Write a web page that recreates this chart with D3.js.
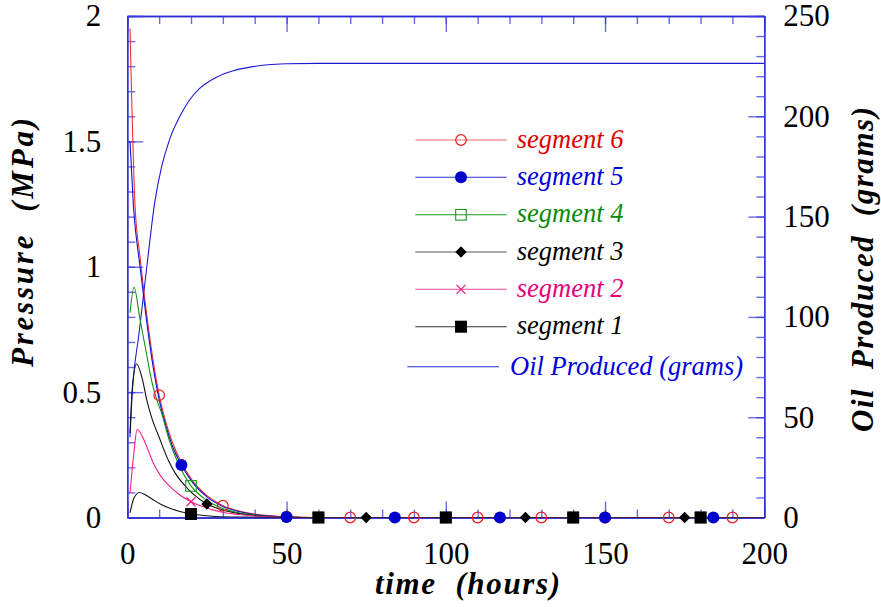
<!DOCTYPE html>
<html>
<head>
<meta charset="utf-8">
<script src="https://cdn.jsdelivr.net/npm/d3@7"></script>
<style>
  body { margin: 0; background: #fff; }
</style>
</head>
<body>
<svg id="chart" width="881" height="607"></svg>
<script>
// Pressure (MPa) against time (hours) for each segment, as [time, pressure] pairs
const segment6 = [[0.85,1.95],[2.4,1.25],[4,1.04],[6,0.82],[8,0.635],[10,0.488],[12,0.385],[14,0.305],[17,0.218],[20,0.155],[25,0.087],[30,0.047],[35,0.026],[40,0.014],[45,0.007],[50,0.003],[60,0],[70,0],[90,0],[110,0],[130,0],[150,0],[170,0],[190,0],[200,0]];
const segment5 = [[0.85,1.5],[1.9,1.246],[4,1.0],[6,0.79],[8,0.61],[10,0.47],[12,0.37],[14,0.29],[17,0.209],[20,0.148],[25,0.082],[30,0.044],[35,0.024],[40,0.012],[45,0.006],[50,0.002],[60,0],[84,0],[117,0],[150,0],[184,0],[200,0]];
const segment4 = [[0.85,0.817],[2.1,0.918],[4,0.79],[6,0.655],[7.6,0.548],[9,0.48],[10.8,0.415],[13,0.315],[16,0.215],[20,0.126],[25,0.068],[30,0.036],[35,0.019],[40,0.01],[50,0.002],[60,0],[100,0],[140,0],[180,0],[200,0]];
const segment3 = [[0.85,0.336],[1.6,0.52],[2.9,0.612],[4.8,0.548],[6.1,0.469],[7.6,0.4],[10,0.32],[13,0.225],[15,0.178],[18,0.128],[21,0.09],[25,0.054],[30,0.03],[35,0.016],[40,0.008],[50,0.001],[60,0],[75,0],[125,0],[175,0],[200,0]];
const segment2 = [[0.85,0.097],[2,0.25],[3.1,0.352],[4,0.34],[5,0.316],[6.5,0.27],[8.2,0.216],[10.5,0.165],[13.4,0.123],[16.5,0.09],[20,0.063],[25,0.038],[29,0.023],[35,0.012],[40,0.006],[50,0.001],[60,0],[100,0],[140,0],[180,0],[200,0]];
const segment1 = [[0.85,0.018],[2,0.075],[3.8,0.1],[5.5,0.092],[8.2,0.07],[10.5,0.053],[13.4,0.037],[16.5,0.024],[20,0.014],[25,0.007],[29,0.003],[40,0.001],[50,0],[60,0],[100,0],[140,0],[180,0],[200,0]];

// Cumulative oil produced (grams) against time (hours)
const oilProduced = [[0.85,40],[1.4,58],[3.7,92],[6.2,126],[8.6,157],[10.8,175],[13.4,189],[16.5,200],[19.5,208],[22.8,214],[28,219.5],[33,222.6],[38.5,224.5],[44,225.7],[50,226.2],[60,226.4],[200,226.4]];

// Symbol positions along each pressure curve, [time, pressure]
const segment6Marks = [[10,0.488],[30,0.047],[50,0.003],[70,0],[90,0],[110,0],[130,0],[150,0],[170,0],[190,0]];
const segment5Marks = [[17,0.209],[50,0.002],[84,0],[117,0],[150,0],[184,0]];
const segment4Marks = [[20,0.126],[60,0],[100,0],[140,0],[180,0]];
const segment3Marks = [[25,0.054],[75,0],[125,0],[175,0]];
const segment2Marks = [[20,0.063],[60,0],[100,0],[140,0],[180,0]];
const segment1Marks = [[20,0.014],[60,0],[100,0],[140,0],[180,0]];

// Axis ticks
const timeTicks = [0, 50, 100, 150, 200];
const pressureTicks = [0, 0.5, 1, 1.5, 2];
const oilTicks = [0, 50, 100, 150, 200, 250];

// Legend and axis titles
const legendLabels = ["segment 6", "segment 5", "segment 4", "segment 3", "segment 2", "segment 1"];
const oilLabel = "Oil Produced (grams)";
const xTitle = "time  (hours)";
const yTitle = "Pressure  (MPa)";
const y2Title = "Oil  Produced  (grams)";

// ---------------------------------------------------------------
const SERIF = '"Liberation Serif", "Times New Roman", Times, serif';
const svg = d3.select("#chart");
const plot = { left: 127.3, right: 764.3, top: 16, bottom: 517.5 };

const x = d3.scaleLinear().domain([0, 200]).range([plot.left, plot.right]);
const yP = d3.scaleLinear().domain([0, 2]).range([plot.bottom, plot.top]);
const yO = d3.scaleLinear().domain([0, 250]).range([plot.bottom, plot.top]);

const series = [
  { data: segment6, marks: segment6Marks, line: "#f03030", mark: "#e81c1c", text: "#e00000", symbol: "circleOpen", legendLine: "#f46a6a" },
  { data: segment5, marks: segment5Marks, line: "#1010d0", mark: "#0000cc", text: "#0000dd", symbol: "circle", legendLine: "#3030d0" },
  { data: segment4, marks: segment4Marks, line: "#0f900f", mark: "#1a9a1a", text: "#0a8a0a", symbol: "squareOpen", legendLine: "#1a9a1a" },
  { data: segment3, marks: segment3Marks, line: "#111111", mark: "#000000", text: "#000000", symbol: "diamond", legendLine: "#555555" },
  { data: segment2, marks: segment2Marks, line: "#f0208a", mark: "#ee1a80", text: "#e8007a", symbol: "cross", legendLine: "#f04a9a" },
  { data: segment1, marks: segment1Marks, line: "#111111", mark: "#000000", text: "#000000", symbol: "square", legendLine: "#333333" }
];

// Clip the curves to the plotting frame
svg.append("defs").append("clipPath").attr("id", "frame")
  .append("rect")
  .attr("x", plot.left).attr("y", plot.top - 2)
  .attr("width", plot.right - plot.left).attr("height", plot.bottom - plot.top + 2);

const axisColor = "#2e2ed8";
function styleAxis(g) {
  g.attr("font-family", null).attr("font-size", null);
  g.select(".domain").attr("stroke", axisColor).attr("stroke-width", 1.3);
  g.selectAll(".tick line").attr("stroke", "#3a3adc").attr("stroke-opacity", 0.75).attr("stroke-width", 1.4);
  g.selectAll(".tick text").style("font-family", SERIF).style("font-size", "31px").attr("fill", "#000");
}

// Minor ticks
svg.append("g").attr("transform", `translate(0,${plot.bottom})`)
  .call(d3.axisBottom(x).tickValues(d3.range(0, 201, 10)).tickSize(-8).tickSizeOuter(0).tickFormat(""))
  .call(styleAxis);
svg.append("g").attr("transform", `translate(0,${plot.top})`)
  .call(d3.axisTop(x).tickValues(d3.range(0, 201, 10)).tickSize(-8).tickSizeOuter(0).tickFormat(""))
  .call(styleAxis);
svg.append("g").attr("transform", `translate(${plot.left},0)`)
  .call(d3.axisLeft(yP).tickValues(d3.range(0, 20.5, 1).map(v => v / 10)).tickSize(-8).tickSizeOuter(0).tickFormat(""))
  .call(styleAxis);
svg.append("g").attr("transform", `translate(${plot.right},0)`)
  .call(d3.axisRight(yO).tickValues(d3.range(0, 251, 10)).tickSize(-8).tickSizeOuter(0).tickFormat(""))
  .call(styleAxis);

// Major ticks and labels
svg.append("g").attr("transform", `translate(0,${plot.bottom})`)
  .call(d3.axisBottom(x).tickValues(timeTicks).tickSize(-16).tickSizeOuter(0).tickPadding(24).tickFormat(d => String(d)))
  .call(styleAxis);
svg.append("g").attr("transform", `translate(0,${plot.top})`)
  .call(d3.axisTop(x).tickValues(timeTicks).tickSize(-16).tickSizeOuter(0).tickFormat(""))
  .call(styleAxis);
svg.append("g").attr("transform", `translate(${plot.left},0)`)
  .call(d3.axisLeft(yP).tickValues(pressureTicks).tickSize(-16).tickSizeOuter(0).tickPadding(26).tickFormat(d => String(d)))
  .call(styleAxis);
svg.append("g").attr("transform", `translate(${plot.right},0)`)
  .call(d3.axisRight(yO).tickValues(oilTicks).tickSize(-16).tickSizeOuter(0).tickPadding(19).tickFormat(d => String(d)))
  .call(styleAxis);

// Curves
const curves = svg.append("g").attr("clip-path", "url(#frame)");
const pLine = d3.line().x(d => x(d[0])).y(d => yP(d[1])).curve(d3.curveMonotoneX);
const oLine = d3.line().x(d => x(d[0])).y(d => yO(d[1])).curve(d3.curveMonotoneX);

curves.append("path").datum(oilProduced)
  .attr("d", oLine).attr("fill", "none").attr("stroke", "#1a1ad6").attr("stroke-width", 1.1);

series.forEach(s => {
  curves.append("path").datum(s.data)
    .attr("d", pLine).attr("fill", "none").attr("stroke", s.line).attr("stroke-width", 1.1);
});

// Symbols
function drawSymbol(g, kind, cx, cy, color) {
  if (kind === "circleOpen") {
    g.append("circle").attr("cx", cx).attr("cy", cy).attr("r", 5.3)
      .attr("fill", "none").attr("stroke", color).attr("stroke-width", 1.2);
  } else if (kind === "circle") {
    g.append("circle").attr("cx", cx).attr("cy", cy).attr("r", 6).attr("fill", color);
  } else if (kind === "squareOpen") {
    g.append("rect").attr("x", cx - 5.3).attr("y", cy - 5.3).attr("width", 10.6).attr("height", 10.6)
      .attr("fill", "none").attr("stroke", color).attr("stroke-width", 1.1);
  } else if (kind === "diamond") {
    g.append("path").attr("d", `M${cx},${cy - 5.7}L${cx + 5.7},${cy}L${cx},${cy + 5.7}L${cx - 5.7},${cy}Z`).attr("fill", color);
  } else if (kind === "cross") {
    g.append("path").attr("d", `M${cx - 4.5},${cy - 4.5}L${cx + 4.5},${cy + 4.5}M${cx - 4.5},${cy + 4.5}L${cx + 4.5},${cy - 4.5}`)
      .attr("stroke", color).attr("stroke-width", 1.2).attr("fill", "none");
  } else if (kind === "square") {
    g.append("rect").attr("x", cx - 6).attr("y", cy - 6).attr("width", 12).attr("height", 12).attr("fill", color);
  }
}

const symbols = svg.append("g");
series.forEach(s => {
  s.marks.forEach(d => drawSymbol(symbols, s.symbol, x(d[0]), yP(d[1]), s.mark));
});

// Legend
const legend = svg.append("g");
const legendRows = [140, 177.3, 214.8, 252, 289.3, 326.7];
series.forEach((s, i) => {
  const ly = legendRows[i];
  legend.append("line").attr("x1", 415.3).attr("x2", 506.7).attr("y1", ly).attr("y2", ly)
    .attr("stroke", s.legendLine).attr("stroke-width", 1.1);
  drawSymbol(legend, s.symbol, 461, ly, s.mark);
  legend.append("text").attr("x", 516.7).attr("y", ly + 7.5)
    .style("font-family", SERIF).style("font-size", "26.5px").style("font-style", "italic")
    .attr("fill", s.text)
    .text(legendLabels[i]);
});
legend.append("line").attr("x1", 407.3).attr("x2", 499).attr("y1", 366.7).attr("y2", 366.7)
  .attr("stroke", "#2a2ad8").attr("stroke-width", 1.1);
legend.append("text").attr("x", 510).attr("y", 375)
  .style("font-family", SERIF).style("font-size", "26.5px").style("font-style", "italic")
  .attr("fill", "#0000dd")
  .text(oilLabel);

// Axis titles
function title(sel, label, len) {
  sel.attr("text-anchor", "middle")
    .style("font-family", SERIF).style("font-size", "31px")
    .style("font-weight", "bold").style("font-style", "italic")
    .style("white-space", "pre")
    .attr("textLength", len).attr("lengthAdjust", "spacing")
    .attr("fill", "#000")
    .text(label);
}
svg.append("text").attr("x", 467.5).attr("y", 594).call(title, xTitle, 185);
svg.append("text").attr("transform", "translate(33,242.5) rotate(-90)").call(title, yTitle, 249);
svg.append("text").attr("transform", "translate(873,269.5) rotate(-90)").call(title, y2Title, 325);
</script>
</body>
</html>
